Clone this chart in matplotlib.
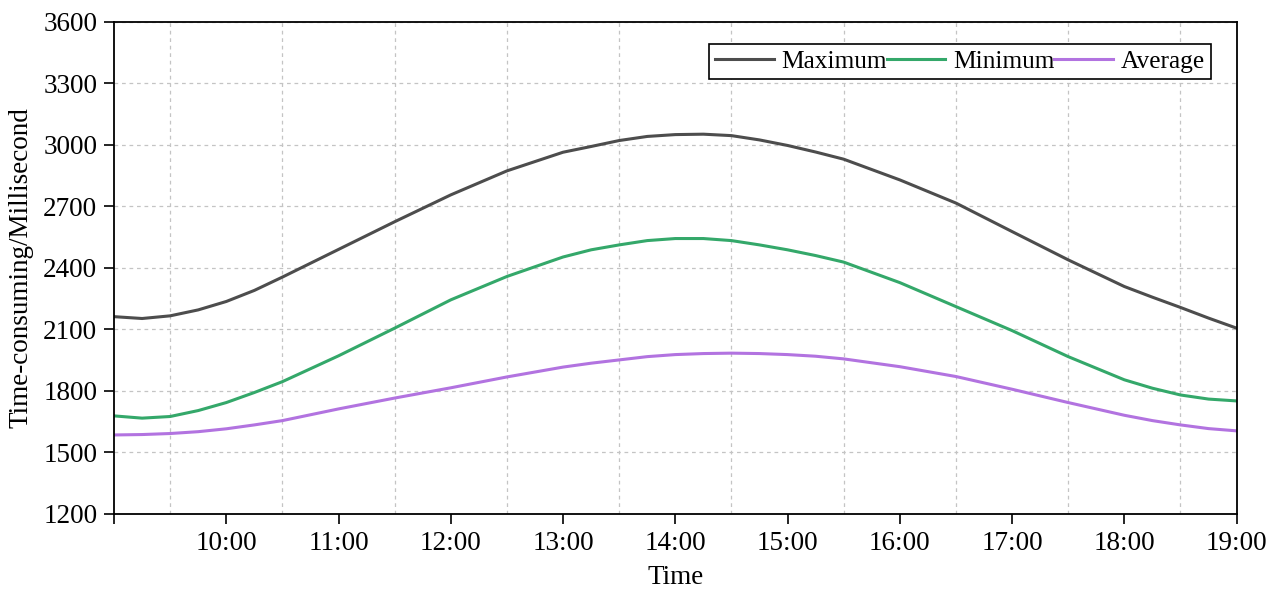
import matplotlib.pyplot as plt
from matplotlib.ticker import MultipleLocator

plt.rcParams['font.family'] = ['Liberation Serif', 'DejaVu Serif']
plt.rcParams['font.size'] = 19.5

# time in hours; quarter-hour readings near the bends, half-hour elsewhere
hours = [9.0, 9.25, 9.5, 9.75, 10.0, 10.25, 10.5, 11.0, 11.5, 12.0, 12.5,
         13.0, 13.25, 13.5, 13.75, 14.0, 14.25, 14.5, 14.75, 15.0, 15.25,
         15.5, 16.0, 16.5, 17.0, 17.5, 18.0, 18.25, 18.5, 18.75, 19.0]
maximum = [2162, 2153, 2166, 2195, 2236, 2290, 2355, 2490, 2625, 2756, 2873,
           2964, 2992, 3021, 3041, 3050, 3052, 3045, 3024, 2997, 2965,
           2930, 2829, 2716, 2577, 2439, 2309, 2257, 2207, 2155, 2106]
minimum = [1678, 1667, 1675, 1704, 1743, 1792, 1845, 1971, 2106, 2244, 2358,
           2453, 2488, 2512, 2533, 2543, 2543, 2533, 2512, 2488, 2460,
           2428, 2328, 2211, 2094, 1967, 1854, 1813, 1780, 1760, 1751]
average = [1585, 1587, 1592, 1601, 1615, 1634, 1655, 1712, 1765, 1815, 1868,
           1916, 1935, 1951, 1967, 1977, 1982, 1984, 1982, 1977, 1969,
           1956, 1918, 1870, 1808, 1743, 1681, 1655, 1634, 1616, 1605]

hour_ticks = [9, 10, 11, 12, 13, 14, 15, 16, 17, 18, 19]
hour_labels = ["", "10:00", "11:00", "12:00", "13:00", "14:00", "15:00",
               "16:00", "17:00", "18:00", "19:00"]
y_ticks = [1200, 1500, 1800, 2100, 2400, 2700, 3000, 3300, 3600]

fig = plt.figure(figsize=(12.67, 5.90), dpi=100)
ax = fig.add_axes([0.090, 0.129, 0.886, 0.834])

ax.plot(hours, maximum, color="#4d4d4d", lw=2.2, label="Maximum")
ax.plot(hours, minimum, color="#34a86a", lw=2.2, label="Minimum")
ax.plot(hours, average, color="#b273e0", lw=2.2, label="Average")

ax.set_xlim(9, 19)
ax.set_ylim(1200, 3600)
ax.set_xticks(hour_ticks)
ax.set_xticklabels(hour_labels)
ax.xaxis.set_minor_locator(MultipleLocator(0.5))
ax.set_yticks(y_ticks)

ax.tick_params(which="major", direction="out", length=7, width=1.2, pad=5)
ax.tick_params(which="minor", length=0)
ax.grid(True, axis="x", which="minor", ls=(0, (3, 3)), color="#c4c4c4", lw=0.9)
ax.grid(True, axis="y", which="major", ls=(0, (3, 3)), color="#c4c4c4", lw=0.9)
for s in ax.spines.values():
    s.set_linewidth(1.3)

ax.set_xlabel("Time", labelpad=7)
ax.set_ylabel("Time-consuming/Millisecond", labelpad=7)

leg = ax.legend(ncol=3, loc="upper right", bbox_to_anchor=(0.977, 0.955),
                borderaxespad=0, fancybox=False, framealpha=1,
                edgecolor="black", handlelength=2.3, handletextpad=0.3,
                columnspacing=0.0, borderpad=0.25, fontsize=18.3)
leg.get_frame().set_linewidth(1.2)

fig.savefig("out.png", dpi=100)
